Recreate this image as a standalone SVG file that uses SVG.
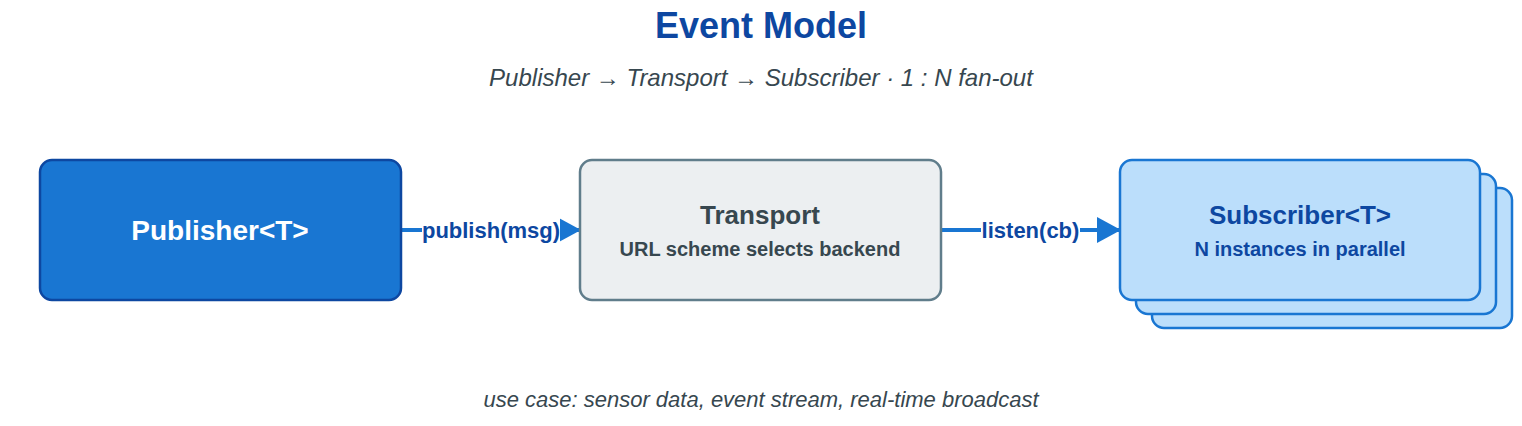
<svg xmlns="http://www.w3.org/2000/svg" width="1522" height="426" viewBox="0 0 1522 426">
<style>
text{font-family:"Liberation Sans",Arial,sans-serif}
.title{font-size:36px;font-weight:bold;fill:#0D47A1}
.sub{font-size:24px;font-style:italic;fill:#37474F}
.cap{font-size:22px;font-style:italic;fill:#37474F}
.h{font-size:26px;font-weight:bold}
.s{font-size:20px;font-weight:bold}
.lbl{font-size:22px;font-weight:bold;fill:#0D47A1}
.edge{stroke:#1976D2;stroke-width:4;fill:none}
.sb{fill:#BBDEFB;stroke:#1976D2;stroke-width:2.5}
</style>
<defs>
<marker id="arr" viewBox="0 0 24 26" refX="22" refY="13" markerWidth="24" markerHeight="26" markerUnits="userSpaceOnUse" orient="auto">
<path d="M0,0 L24,13 L0,26 z" fill="#1976D2"/>
</marker>
</defs>
<text class="title" x="761" y="38" text-anchor="middle">Event Model</text>
<text class="sub" x="761" y="86" text-anchor="middle">Publisher → Transport → Subscriber · 1 : N fan-out</text>
<g id="connectors">
<line class="edge" x1="401" y1="230" x2="579" y2="230" marker-end="url(#arr)"/>
<line class="edge" x1="941" y1="230" x2="1119" y2="230" marker-end="url(#arr)"/>
<rect x="422" y="214" width="138" height="30" fill="#fff"/>
<text class="lbl" x="491" y="238" text-anchor="middle">publish(msg)</text>
<rect x="981" y="214" width="99" height="30" fill="#fff"/>
<text class="lbl" x="1030.5" y="238" text-anchor="middle">listen(cb)</text>
</g>
<g id="publisher">
<rect x="40" y="160" width="361" height="140" rx="12" fill="#1976D2" stroke="#0D47A1" stroke-width="2.5"/>
<text class="h" x="220" y="240" text-anchor="middle" fill="#fff" style="font-size:28px">Publisher&lt;T&gt;</text>
</g>
<g id="transport">
<rect x="580" y="160" width="361" height="140" rx="12" fill="#ECEFF1" stroke="#607D8B" stroke-width="2.5"/>
<text class="h" x="760" y="224" text-anchor="middle" fill="#37474F">Transport</text>
<text class="s" x="760" y="256" text-anchor="middle" fill="#37474F">URL scheme selects backend</text>
</g>
<g id="subscriber">
<rect class="sb" x="1152" y="188" width="360" height="140" rx="12"/>
<rect class="sb" x="1136" y="174" width="360" height="140" rx="12"/>
<rect class="sb" x="1120" y="160" width="360" height="140" rx="12"/>
<text class="h" x="1300" y="224" text-anchor="middle" fill="#0D47A1">Subscriber&lt;T&gt;</text>
<text class="s" x="1300" y="256" text-anchor="middle" fill="#0D47A1">N instances in parallel</text>
</g>
<text class="cap" x="761" y="407" text-anchor="middle">use case: sensor data, event stream, real-time broadcast</text>
</svg>
